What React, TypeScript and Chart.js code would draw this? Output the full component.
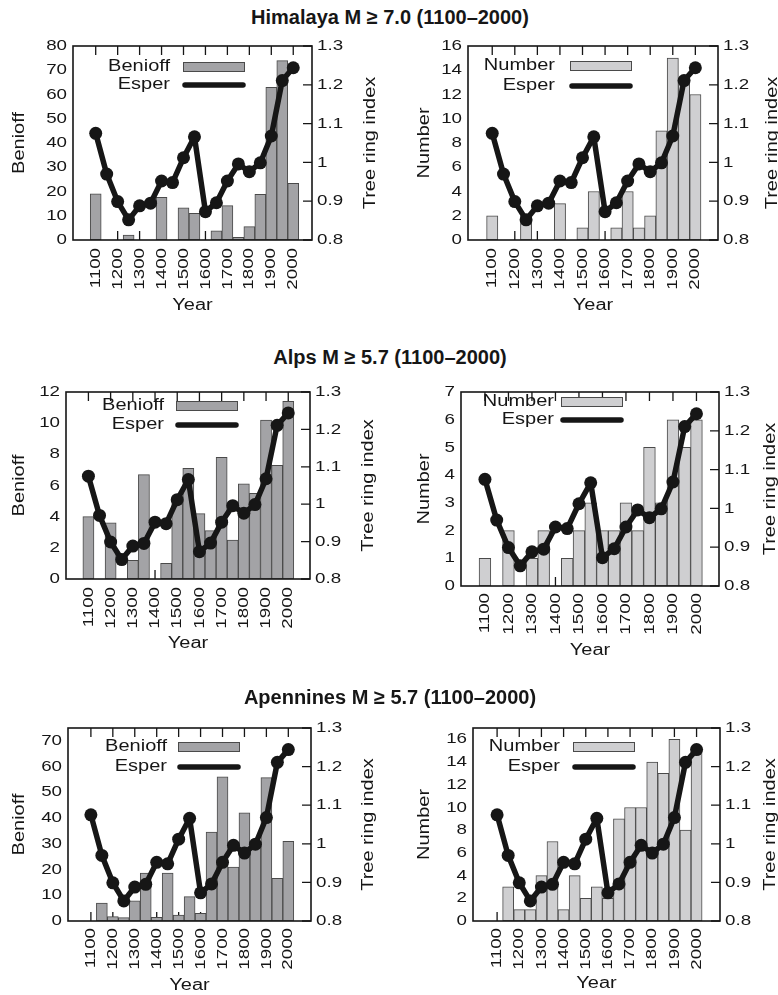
import React, { useEffect, useRef } from 'react';
import { Chart, registerables } from 'chart.js';

Chart.register(...registerables);

// ---------------- data ----------------
const years = [1100, 1150, 1200, 1250, 1300, 1350, 1400, 1450, 1500, 1550, 1600, 1650, 1700, 1750, 1800, 1850, 1900, 1950, 2000];
const esper = [1.075, 0.97, 0.899, 0.852, 0.888, 0.895, 0.952, 0.948, 1.012, 1.066, 0.873, 0.896, 0.952, 0.996, 0.976, 0.999, 1.068, 1.211, 1.244];

const himalayaBenioff = [19, 0, 0, 2, 0, 0, 17.6, 0, 13.3, 11, 0, 3.8, 14.2, 1.1, 5.5, 18.8, 63, 74, 23.4];
const himalayaNumber = [2, 0, 0, 2, 0, 0, 3, 0, 1, 4, 0, 1, 4, 1, 2, 9, 15, 13, 12];
const alpsBenioff = [4.0, 0, 3.6, 0, 1.2, 6.7, 0, 1.0, 5.1, 7.1, 4.2, 3.1, 7.8, 2.5, 6.1, 5.5, 10.2, 7.3, 11.4];
const alpsNumber = [1, 0, 2, 0, 1, 2, 0, 1, 2, 3, 2, 2, 3, 2, 5, 3, 6, 5, 6];
const apenninesBenioff = [0, 7, 1.7, 1.3, 7.8, 18.6, 1.4, 18.6, 2.3, 9.5, 3, 34.6, 56, 21, 42, 29, 55.7, 16.6, 31];
const apenninesNumber = [0, 3, 1, 1, 4, 7, 1, 4, 2, 3, 2, 9, 10, 10, 14, 13, 16, 8, 15];

const yearTicks = [1100, 1200, 1300, 1400, 1500, 1600, 1700, 1800, 1900, 2000];
const treeRingTicks = [0.8, 0.9, 1.0, 1.1, 1.2, 1.3];
const ticks0to80 = [0, 10, 20, 30, 40, 50, 60, 70, 80];
const ticks0to70 = [0, 10, 20, 30, 40, 50, 60, 70];
const ticks0to16 = [0, 2, 4, 6, 8, 10, 12, 14, 16];
const ticks0to12 = [0, 2, 4, 6, 8, 10, 12];
const ticks0to7 = [0, 1, 2, 3, 4, 5, 6, 7];

const titles = ['Himalaya M \u2265 7.0 (1100\u20132000)', 'Alps M \u2265 5.7 (1100\u20132000)', 'Apennines M \u2265 5.7 (1100\u20132000)'];
const rightTitle = 'Tree ring index';

// ---------------- styles ----------------
const FONT = "'Liberation Sans', Arial, Helvetica, sans-serif";
const SX = 1.25;
const INK = '#161616';
const BENIOFF_FILL = '#a3a3a6';
const NUMBER_FILL = '#cfcfd1';
const BAR_EDGE = '#4a4a4a';
const TICK = 9;
const TICK_SIZE = 15;
const TITLE_SIZE = 16;

type Panel = {
  label: string; values: number[]; fill: string; yMax: number; yTicks: number[];
  xMin: number; xMax: number;
  canvas: { x: number; y: number; w: number; h: number };
  area: { l: number; t: number; r: number; b: number };
  leftPad: number; rightTitleX: number; xLabelPad: number; yearPad: number;
  legend: { textRight: number; swL: number; swR: number; row1: number; row2: number };
};

const panels: Panel[] = [
  { label: 'Benioff', values: himalayaBenioff, fill: BENIOFF_FILL, yMax: 80, yTicks: ticks0to80, xMin: 1051, xMax: 2031,
    canvas: { x: 0, y: 30, w: 390, h: 290 }, area: { l: 73, t: 46, r: 312, b: 240 },
    leftPad: 10, rightTitleX: 371, xLabelPad: 8, yearPad: 5,
    legend: { textRight: 97, swL: 110, swR: 172, row1: 21, row2: 39 } },
  { label: 'Number', values: himalayaNumber, fill: NUMBER_FILL, yMax: 16, yTicks: ticks0to16, xMin: 1048, xMax: 2045,
    canvas: { x: 390, y: 30, w: 400, h: 290 }, area: { l: 468, t: 46, r: 718, b: 240 },
    leftPad: 25, rightTitleX: 773, xLabelPad: 8, yearPad: 5,
    legend: { textRight: 87, swL: 102, swR: 164, row1: 20, row2: 40 } },
  { label: 'Benioff', values: alpsBenioff, fill: BENIOFF_FILL, yMax: 12, yTicks: ticks0to12, xMin: 1054, xMax: 2043,
    canvas: { x: 0, y: 370, w: 390, h: 290 }, area: { l: 66, t: 392, r: 310, b: 579 },
    leftPad: 10, rightTitleX: 369, xLabelPad: 8, yearPad: 7,
    legend: { textRight: 98, swL: 110, swR: 172, row1: 14, row2: 33 } },
  { label: 'Number', values: alpsNumber, fill: NUMBER_FILL, yMax: 7, yTicks: ticks0to7, xMin: 1053, xMax: 2041,
    canvas: { x: 390, y: 370, w: 400, h: 290 }, area: { l: 461, t: 392, r: 719, b: 586 },
    leftPad: 25, rightTitleX: 771, xLabelPad: 7, yearPad: 0,
    legend: { textRight: 93, swL: 100, swR: 162, row1: 10, row2: 28 } },
  { label: 'Benioff', values: apenninesBenioff, fill: BENIOFF_FILL, yMax: 75, yTicks: ticks0to70, xMin: 1051, xMax: 2048,
    canvas: { x: 0, y: 705, w: 390, h: 290 }, area: { l: 68, t: 728, r: 311, b: 921 },
    leftPad: 10, rightTitleX: 369, xLabelPad: 7, yearPad: 0,
    legend: { textRight: 99, swL: 110, swR: 172, row1: 19, row2: 39 } },
  { label: 'Number', values: apenninesNumber, fill: NUMBER_FILL, yMax: 17, yTicks: ticks0to16, xMin: 1047, xMax: 2050,
    canvas: { x: 390, y: 705, w: 400, h: 290 }, area: { l: 473, t: 728, r: 720, b: 921 },
    leftPad: 25, rightTitleX: 771, xLabelPad: 7, yearPad: 2,
    legend: { textRight: 87, swL: 100, swR: 162, row1: 19, row2: 39 } },
];

const titleTops = [7, 347, 687];

// widen glyphs horizontally (the reference uses a very wide sans face)
function stretchText(ctx: any) {
  if (ctx.__stretched) return;
  ctx.__stretched = true;
  const orig = ctx.fillText;
  ctx.fillText = function (text: string, x: number, y: number) {
    this.save();
    this.translate(x, y);
    this.scale(SX, 1);
    orig.call(this, text, 0, 0);
    this.restore();
  };
}

function makeDecor(p: Panel) {
  return {
    id: 'decor',
    beforeDatasetsDraw(chart: any) {
      const { ctx, chartArea: a, scales } = chart;
      ctx.save();
      ctx.strokeStyle = INK;
      ctx.lineWidth = 1.3;
      ctx.beginPath();
      for (const v of yearTicks) {
        const px = scales.x.getPixelForValue(v);
        ctx.moveTo(px, a.top); ctx.lineTo(px, a.top + TICK);
        ctx.moveTo(px, a.bottom); ctx.lineTo(px, a.bottom - TICK);
      }
      for (const v of treeRingTicks) {
        const py = scales.y1.getPixelForValue(v);
        ctx.moveTo(a.right, py); ctx.lineTo(a.right - TICK, py);
      }
      ctx.stroke();
      ctx.restore();
    },
    afterDatasetsDraw(chart: any) {
      const { ctx, chartArea: a } = chart;
      const lg = p.legend;
      ctx.save();
      // frame
      ctx.strokeStyle = INK;
      ctx.lineWidth = 1.6;
      ctx.strokeRect(a.left, a.top, a.right - a.left, a.bottom - a.top);
      // legend
      ctx.font = `${TITLE_SIZE}px ${FONT}`;
      ctx.fillStyle = INK;
      ctx.textAlign = 'right';
      ctx.textBaseline = 'middle';
      ctx.fillText(p.label, a.left + lg.textRight, a.top + lg.row1);
      ctx.fillText('Esper', a.left + lg.textRight, a.top + lg.row2);
      ctx.fillStyle = p.fill;
      ctx.fillRect(a.left + lg.swL, a.top + lg.row1 - 5, lg.swR - lg.swL, 10);
      ctx.strokeStyle = BAR_EDGE;
      ctx.lineWidth = 1;
      ctx.strokeRect(a.left + lg.swL + 0.5, a.top + lg.row1 - 5 + 0.5, lg.swR - lg.swL - 1, 9);
      ctx.strokeStyle = INK;
      ctx.lineWidth = 5.5;
      ctx.lineCap = 'round';
      ctx.beginPath();
      ctx.moveTo(a.left + lg.swL + 2, a.top + lg.row2);
      ctx.lineTo(a.left + lg.swR - 2, a.top + lg.row2);
      ctx.stroke();
      // right axis title, reading bottom-to-top
      ctx.font = `${TITLE_SIZE}px ${FONT}`;
      ctx.fillStyle = INK;
      ctx.textAlign = 'center';
      ctx.textBaseline = 'middle';
      ctx.translate(p.rightTitleX - p.canvas.x, (a.top + a.bottom) / 2);
      ctx.rotate(-Math.PI / 2);
      ctx.fillText(rightTitle, 0, 0);
      ctx.restore();
    },
  };
}

function makeConfig(p: Panel): any {
  const c = p.canvas, ar = p.area;
  const tickFont = { size: TICK_SIZE, family: FONT };
  const titleFont = { size: TITLE_SIZE, family: FONT };
  return {
    type: 'bar',
    data: {
      datasets: [
        {
          type: 'line', label: 'Esper', order: 0, yAxisID: 'y1',
          data: years.map((x, i) => ({ x, y: esper[i] })),
          borderColor: INK, backgroundColor: INK, borderWidth: 5.5, borderJoinStyle: 'round',
          pointRadius: 6.5, pointBackgroundColor: INK, pointBorderWidth: 0, tension: 0,
        },
        {
          type: 'bar', label: p.label, order: 1, yAxisID: 'y',
          data: years.map((x, i) => ({ x, y: p.values[i] })),
          backgroundColor: p.fill, borderColor: BAR_EDGE, borderWidth: 1, borderSkipped: false,
          barPercentage: 1, categoryPercentage: 1,
        },
      ],
    },
    options: {
      responsive: false, animation: false, events: [],
      layout: { padding: { top: ar.t - c.y, left: 0, right: 0, bottom: 0 } },
      plugins: { legend: { display: false }, tooltip: { enabled: false } },
      scales: {
        x: {
          type: 'linear', position: 'bottom', min: p.xMin, max: p.xMax,
          grid: { display: false, drawTicks: false }, border: { display: false },
          afterBuildTicks: (s: any) => { s.ticks = yearTicks.map((v) => ({ value: v })); },
          afterFit: (s: any) => { s.height = c.y + c.h - ar.b; },
          ticks: { autoSkip: false, minRotation: 90, maxRotation: 90, padding: p.xLabelPad, font: tickFont, color: INK, callback: (v: number) => String(v) },
          title: { display: true, text: 'Year', font: titleFont, color: INK, padding: { top: p.yearPad, bottom: p.yearPad } },
        },
        y: {
          type: 'linear', position: 'left', min: 0, max: p.yMax,
          grid: { display: false, drawTicks: false }, border: { display: false },
          afterBuildTicks: (s: any) => { s.ticks = p.yTicks.map((v) => ({ value: v })); },
          afterFit: (s: any) => { s.width = ar.l - c.x; },
          ticks: { padding: 6, font: tickFont, color: INK, callback: (v: number) => String(v) },
          title: { display: true, text: p.label, font: titleFont, color: INK, padding: { top: p.leftPad, bottom: p.leftPad } },
        },
        y1: {
          type: 'linear', position: 'right', min: 0.8, max: 1.3,
          grid: { display: false, drawTicks: false }, border: { display: false },
          afterBuildTicks: (s: any) => { s.ticks = treeRingTicks.map((v) => ({ value: v })); },
          afterFit: (s: any) => { s.width = c.x + c.w - ar.r; },
          ticks: { padding: 5, font: tickFont, color: INK, callback: (v: number) => String(Math.round(v * 10) / 10) },
          title: { display: false },
        },
      },
    },
    plugins: [makeDecor(p)],
  };
}

export default function App() {
  const refs = useRef<(HTMLCanvasElement | null)[]>([]);

  useEffect(() => {
    const charts = panels.map((p, i) => {
      const canvas = refs.current[i] as HTMLCanvasElement;
      const ctx = canvas.getContext('2d') as CanvasRenderingContext2D;
      stretchText(ctx);
      return new Chart(ctx, makeConfig(p));
    });
    return () => charts.forEach((ch) => ch.destroy());
  }, []);

  return (
    <div style={{ position: 'absolute', left: 0, top: 0, width: 778, height: 995, overflow: 'hidden', background: '#fff' }}>
      {panels.map((p, i) => (
        <canvas
          key={i}
          ref={(el) => { refs.current[i] = el; }}
          width={p.canvas.w}
          height={p.canvas.h}
          style={{ position: 'absolute', left: p.canvas.x, top: p.canvas.y, width: p.canvas.w, height: p.canvas.h }}
        />
      ))}
      {titles.map((t, i) => (
        <div
          key={'t' + i}
          style={{
            position: 'absolute', left: 0, top: titleTops[i], width: 780, textAlign: 'center',
            fontFamily: FONT, fontWeight: 'bold', fontSize: 20, lineHeight: '20px', color: INK, whiteSpace: 'nowrap',
          }}
        >
          {t}
        </div>
      ))}
    </div>
  );
}
